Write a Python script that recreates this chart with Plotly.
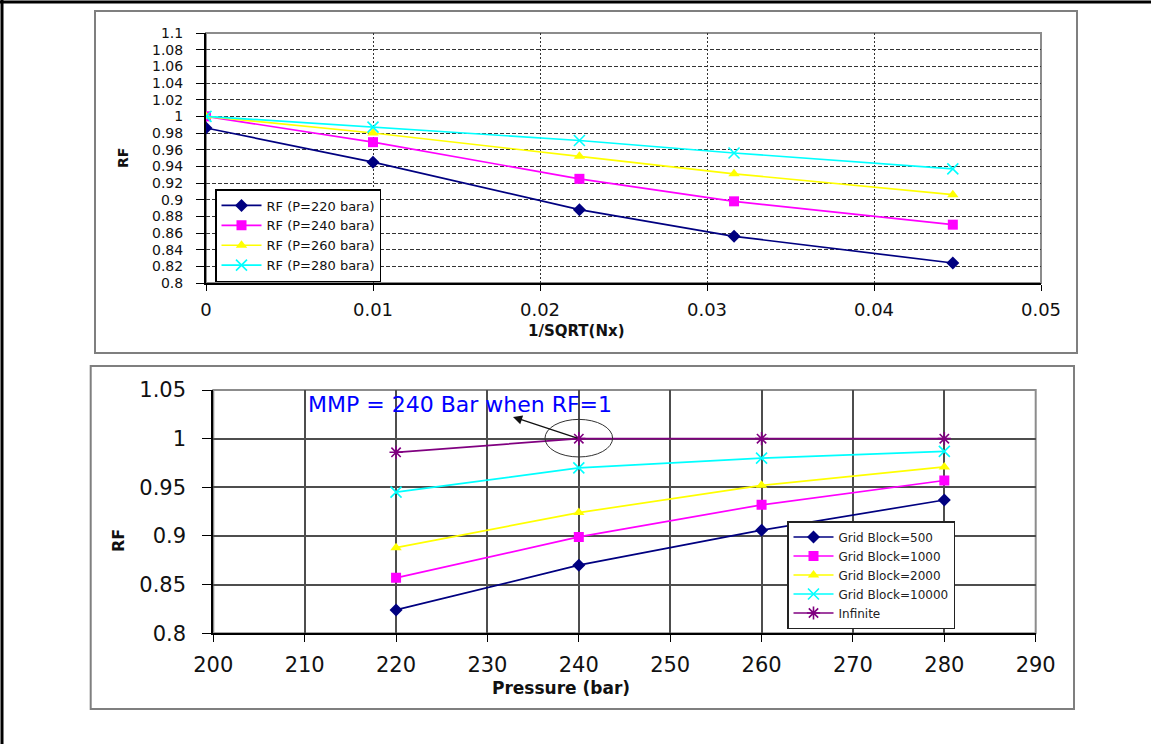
import plotly.graph_objects as go

W, H = 1151, 744

# ---------------- data ----------------
# top chart: x = 1/SQRT(Nx)
inv_sqrt_nx = [0.0, 0.01, 0.02236, 0.03162, 0.04472]
rf_p220 = [0.986, 0.945, 0.888, 0.856, 0.824]
rf_p240 = [1.000, 0.969, 0.925, 0.898, 0.870]
rf_p260 = [1.000, 0.980, 0.952, 0.931, 0.906]
rf_p280 = [1.000, 0.987, 0.971, 0.956, 0.937]
top_names = ["RF (P=220 bara)", "RF (P=240 bara)", "RF (P=260 bara)", "RF (P=280 bara)"]

top_xticks = [0, 0.01, 0.02, 0.03, 0.04, 0.05]
top_xticklabels = ["0", "0.01", "0.02", "0.03", "0.04", "0.05"]
top_yticks = [0.8, 0.82, 0.84, 0.86, 0.88, 0.9, 0.92, 0.94, 0.96, 0.98,
              1.0, 1.02, 1.04, 1.06, 1.08, 1.1]
top_yticklabels = ["0.8", "0.82", "0.84", "0.86", "0.88", "0.9", "0.92", "0.94",
                   "0.96", "0.98", "1", "1.02", "1.04", "1.06", "1.08", "1.1"]

# bottom chart: x = pressure (bar)
pressure = [220, 240, 260, 280]
gb500 = [0.824, 0.870, 0.906, 0.937]
gb1000 = [0.857, 0.899, 0.932, 0.957]
gb2000 = [0.888, 0.924, 0.952, 0.971]
gb10000 = [0.945, 0.970, 0.980, 0.987]
infinite = [0.986, 1.000, 1.000, 1.000]
bottom_names = ["Grid Block=500", "Grid Block=1000", "Grid Block=2000",
                "Grid Block=10000", "Infinite"]

bot_xticks = [200, 210, 220, 230, 240, 250, 260, 270, 280, 290]
bot_xticklabels = ["200", "210", "220", "230", "240", "250", "260", "270", "280", "290"]
bot_yticks = [0.8, 0.85, 0.9, 0.95, 1.0, 1.05]
bot_yticklabels = ["0.8", "0.85", "0.9", "0.95", "1", "1.05"]

# ---------------- styles ----------------
colors = ["#000080", "#FF00FF", "#FFFF00", "#00FFFF", "#800080"]
symbols = ["diamond", "square", "triangle-up", "x-thin", "asterisk"]
FONT = "DejaVu Sans"


def px(x):
    return x / W


def py(y):
    return 1 - y / H


fig = go.Figure()

top_series = [rf_p220, rf_p240, rf_p260, rf_p280]
for i, (name, vals) in enumerate(zip(top_names, top_series)):
    fig.add_trace(go.Scatter(
        x=inv_sqrt_nx, y=vals, name=name, mode="lines+markers",
        xaxis="x", yaxis="y", legend="legend",
        line=dict(color=colors[i], width=1.7),
        marker=dict(symbol=symbols[i], size=10 if i != 3 else 11, color=colors[i],
                    line=dict(color=colors[i], width=1.6 if i == 3 else 0)),
    ))

bot_series = [gb500, gb1000, gb2000, gb10000, infinite]
for i, (name, vals) in enumerate(zip(bottom_names, bot_series)):
    fig.add_trace(go.Scatter(
        x=pressure, y=vals, name=name, mode="lines+markers",
        xaxis="x2", yaxis="y2", legend="legend2",
        line=dict(color=colors[i], width=1.7),
        marker=dict(symbol=symbols[i], size=10 if i < 3 else 11, color=colors[i],
                    line=dict(color=colors[i], width=1.6 if i >= 3 else 0)),
    ))

axis_common = dict(showline=True, linecolor="black", linewidth=2, ticks="outside",
                   tickcolor="black", zeroline=False, color="#111111", automargin=False)

fig.update_layout(
    width=W, height=H,
    margin=dict(l=0, r=0, t=0, b=0, pad=0, autoexpand=False),
    paper_bgcolor="white", plot_bgcolor="white",
    font=dict(family=FONT, color="#111111"),
    xaxis=dict(domain=[px(206), px(1041)], anchor="y", range=[0, 0.05],
               tickvals=top_xticks, ticktext=top_xticklabels,
               tickfont=dict(size=18), ticklen=6, ticklabelstandoff=3,
               showgrid=True, gridcolor="#333333", gridwidth=1, griddash="2px,2px",
               **axis_common),
    yaxis=dict(domain=[py(283), py(33)], anchor="x", range=[0.8, 1.1],
               tickvals=top_yticks, ticktext=top_yticklabels,
               tickfont=dict(size=14), ticklen=8, ticklabelstandoff=10,
               showgrid=True, gridcolor="#333333", gridwidth=1, griddash="4px,2px",
               **axis_common),
    xaxis2=dict(domain=[px(213.3), px(1035.7)], anchor="y2", range=[200, 290],
                tickvals=bot_xticks, ticktext=bot_xticklabels,
                tickfont=dict(size=21), ticklen=7, ticklabelstandoff=4,
                showgrid=True, gridcolor="#4d4d4d", gridwidth=1.5,
                **axis_common),
    yaxis2=dict(domain=[py(633.3), py(390)], anchor="x2", range=[0.8, 1.05],
                tickvals=bot_yticks, ticktext=bot_yticklabels,
                tickfont=dict(size=21), ticklen=9, ticklabelstandoff=12,
                showgrid=True, gridcolor="#4d4d4d", gridwidth=1.5,
                **axis_common),
    legend=dict(x=px(215), y=py(282), xanchor="left", yanchor="bottom",
                bgcolor="white", bordercolor="black", borderwidth=1.5,
                font=dict(family=FONT, size=13, color="#111111"),
                itemwidth=40, tracegroupgap=0),
    legend2=dict(x=px(787), y=py(629), xanchor="left", yanchor="bottom",
                 bgcolor="white", bordercolor="#222222", borderwidth=1.5,
                 font=dict(family=FONT, size=12, color="#222222"),
                 itemwidth=40, tracegroupgap=0),
    showlegend=True,
)

shapes = [
    # page frame (top and left rules)
    dict(type="line", xref="paper", yref="paper", x0=0, x1=1, y0=py(2), y1=py(2),
         line=dict(color="black", width=3)),
    dict(type="line", xref="paper", yref="paper", x0=px(2), x1=px(2), y0=0, y1=1,
         line=dict(color="black", width=3)),
    # chart-area boxes
    dict(type="rect", xref="paper", yref="paper", x0=px(95), x1=px(1077), y0=py(353), y1=py(11),
         line=dict(color="#7f7f7f", width=2), layer="below"),
    dict(type="rect", xref="paper", yref="paper", x0=px(90.7), x1=px(1074), y0=py(709), y1=py(366),
         line=dict(color="#7f7f7f", width=2), layer="below"),
    # plot-area borders (gray top/right)
    dict(type="rect", xref="paper", yref="paper", x0=px(206), x1=px(1041), y0=py(283), y1=py(33),
         line=dict(color="#8c8c8c", width=2), layer="below"),
    dict(type="rect", xref="paper", yref="paper", x0=px(213.3), x1=px(1035.7), y0=py(633.3), y1=py(390),
         line=dict(color="#8c8c8c", width=2), layer="below"),
    # ellipse highlighting MMP point
    dict(type="circle", xref="x2", yref="y2", x0=236.3, x1=243.7, y0=0.9812, y1=1.0198,
         line=dict(color="#333333", width=1)),
]
fig.update_layout(shapes=shapes)

annotations = [
    dict(text="<b>RF</b>", xref="paper", yref="paper", x=px(123), y=py(158),
         xanchor="center", yanchor="middle",
         textangle=-90, showarrow=False, font=dict(size=14, color="#111111")),
    dict(text="<b>1/SQRT(Nx)</b>", xref="paper", yref="paper", x=px(576), y=py(331),
         xanchor="center", yanchor="middle",
         showarrow=False, font=dict(size=15, color="#111111")),
    dict(text="<b>RF</b>", xref="paper", yref="paper", x=px(118), y=py(541),
         xanchor="center", yanchor="middle",
         textangle=-90, showarrow=False, font=dict(size=16, color="#111111")),
    dict(text="<b>Pressure (bar)</b>", xref="paper", yref="paper", x=px(561), y=py(688),
         xanchor="center", yanchor="middle",
         showarrow=False, font=dict(size=17, color="#111111")),
    dict(text="MMP = 240 Bar when RF=1", xref="paper", yref="paper", x=px(306), y=py(405),
         xanchor="left", yanchor="middle", showarrow=False,
         font=dict(size=22, color="#0000FF")),
    # arrow from the circled point toward the label
    dict(text="", xref="x2", yref="y2", x=232.8, y=1.0223,
         axref="x2", ayref="y2", ax=240, ay=1.0,
         showarrow=True, arrowhead=2, arrowsize=1.4, arrowwidth=1.3, arrowcolor="#111111"),
]
fig.update_layout(annotations=annotations)

fig.write_html("out.html")
